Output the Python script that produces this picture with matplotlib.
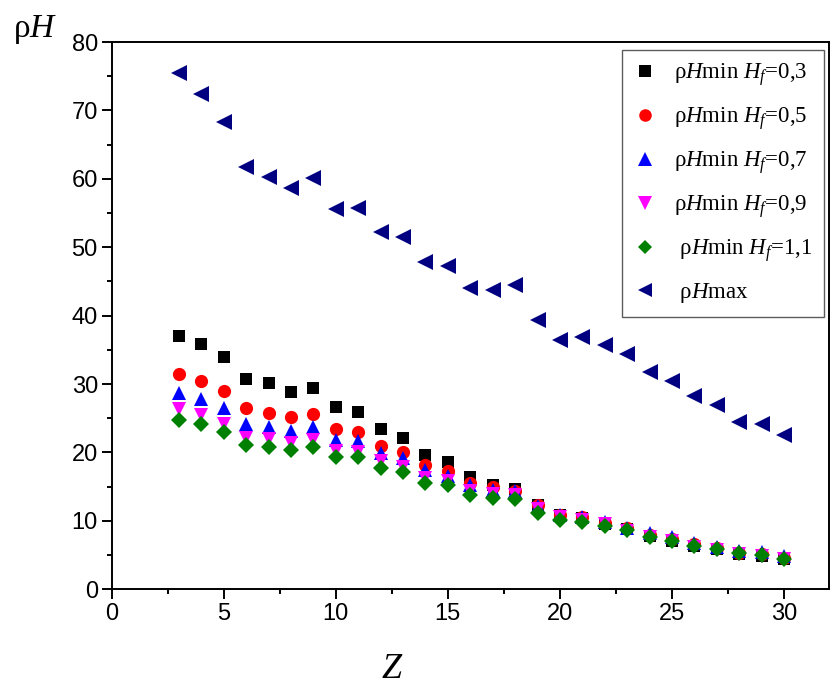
import matplotlib.pyplot as plt
import numpy as np

plt.rcParams['mathtext.fontset'] = 'custom'
plt.rcParams['mathtext.rm'] = 'Liberation Serif'
plt.rcParams['mathtext.it'] = 'Liberation Serif:italic'

z = np.arange(3, 31)

rh_03 = [37.0, 35.8, 33.9, 30.8, 30.1, 28.9, 29.4, 26.6, 25.9, 23.4, 22.1, 19.6, 18.6,
         16.4, 15.3, 14.7, 12.3, 10.8, 10.4, 9.6, 8.8, 7.8, 7.1, 6.4, 5.9, 5.1, 4.9, 4.4]
rh_05 = [31.5, 30.4, 29.0, 26.5, 25.8, 25.2, 25.6, 23.4, 23.0, 21.0, 20.1, 18.1, 17.3,
         15.5, 14.9, 14.4, 12.3, 10.9, 10.5, 9.7, 8.9, 8.0, 7.3, 6.6, 6.0, 5.3, 5.1, 4.6]
rh_07 = [28.7, 27.8, 26.5, 24.2, 23.7, 23.2, 23.7, 21.8, 21.7, 19.9, 19.2, 17.4, 16.5,
         15.2, 14.5, 14.3, 12.2, 10.8, 10.6, 9.9, 9.0, 8.2, 7.6, 6.8, 6.2, 5.6, 5.4, 4.9]
rh_09 = [26.3, 25.5, 24.2, 22.1, 21.9, 21.4, 21.8, 20.2, 20.0, 18.7, 17.9, 16.3, 15.8,
         14.4, 14.0, 13.8, 11.8, 10.5, 10.2, 9.6, 8.5, 7.6, 7.0, 6.2, 5.8, 5.1, 4.9, 4.4]
rh_11 = [24.8, 24.1, 23.0, 21.1, 20.8, 20.4, 20.8, 19.3, 19.3, 17.8, 17.2, 15.6, 15.3,
         13.8, 13.4, 13.2, 11.2, 10.1, 9.9, 9.3, 8.6, 7.7, 7.1, 6.4, 5.9, 5.3, 5.0, 4.5]
rh_max = [75.4, 72.4, 68.3, 61.8, 60.3, 58.6, 60.1, 55.6, 55.7, 52.2, 51.5, 47.8, 47.3,
          44.0, 43.8, 44.5, 39.3, 36.5, 36.9, 35.7, 34.4, 31.8, 30.5, 28.2, 27.0, 24.4, 24.1, 22.6]

series = [
    (rh_03, 's', 'black', 9.0, 'ρ$H$min $H_f$=0,3'),
    (rh_05, 'o', 'red', 9.5, 'ρ$H$min $H_f$=0,5'),
    (rh_07, '^', 'blue', 10.0, 'ρ$H$min $H_f$=0,7'),
    (rh_09, 'v', 'magenta', 10.0, 'ρ$H$min $H_f$=0,9'),
    (rh_11, 'D', 'green', 8.0, ' ρ$H$min $H_f$=1,1'),
    (rh_max, '<', 'navy', 11.0, ' ρ$H$max'),
]

fig = plt.figure(figsize=(8.30, 6.91), dpi=100)
ax = fig.add_axes([0.1346, 0.1472, 0.864, 0.792])

for vals, m, c, ms, lab in series:
    ax.plot(z, vals, linestyle='none', marker=m, color=c, markersize=ms,
            markeredgewidth=0, label=lab)

ax.set_xlim(0, 32)
ax.set_ylim(0, 80)
ax.set_xticks(np.arange(0, 31, 5))
ax.set_xticks(np.arange(2.5, 32, 5), minor=True)
ax.set_yticks(np.arange(0, 81, 10))
ax.set_yticks(np.arange(5, 80, 10), minor=True)
for s in ax.spines.values():
    s.set_linewidth(1.4)
ax.tick_params(which='major', direction='out', length=7, width=1.4,
               labelsize=17, pad=3, top=False, right=False)
ax.tick_params(which='minor', direction='out', length=3.5, width=1.4,
               top=False, right=False)
for lbl in ax.get_xticklabels() + ax.get_yticklabels():
    lbl.set_family('Liberation Sans')

fig.text(0.042, 0.957, 'ρ$H$', fontsize=24, family='Liberation Serif',
         ha='center', va='center')
fig.text(0.472, 0.034, '$Z$', fontsize=26, ha='center', va='center')

leg = ax.legend(loc='upper right', bbox_to_anchor=(0.9937, 0.9854),
                prop={'family': 'Liberation Serif', 'size': 16.5},
                frameon=True, fancybox=False, edgecolor='#333333',
                labelspacing=0.75, handlelength=1.0, handletextpad=0.8,
                borderpad=0.5, borderaxespad=0, markerscale=0.95)
leg.get_frame().set_linewidth(1.0)

plt.savefig('out.png', dpi=100)
